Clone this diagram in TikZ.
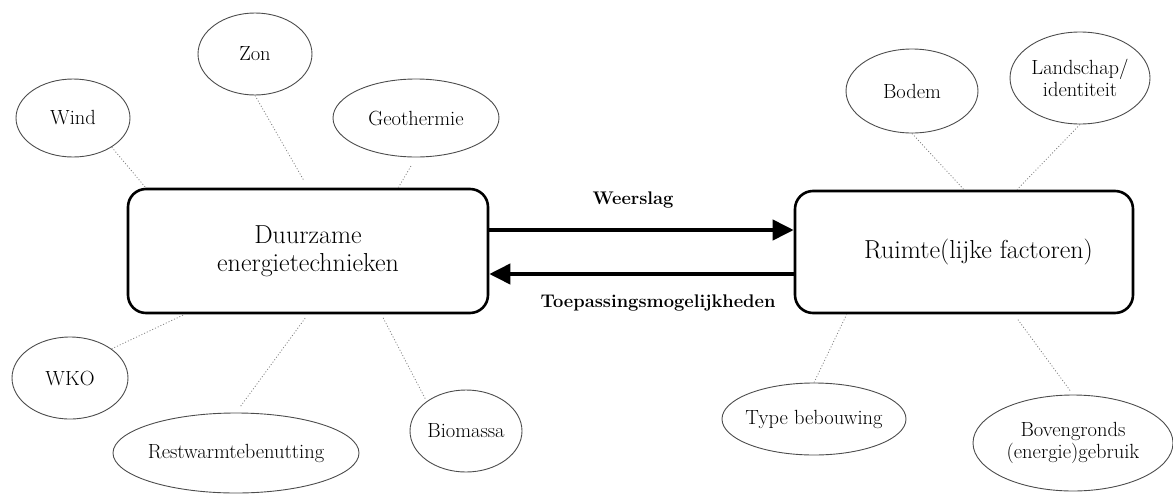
\documentclass[tikz,border=0pt]{standalone}
\usetikzlibrary{shapes.geometric,arrows.meta}
\definecolor{ellgray}{gray}{0.3}
\definecolor{conngray}{gray}{0.5}
\tikzset{
  ell/.style={ellipse, draw=ellgray, line width=0.9pt, inner ysep=0pt, inner xsep=-30pt, align=center,
    font=\fontsize{20.5}{22}\selectfont},
  bigbox/.style={draw, line width=2.6pt, rounded corners=18pt, inner sep=0pt, align=center,
    font=\fontsize{26}{28}\selectfont},
  conn/.style={draw=conngray, line width=0.8pt, dash pattern=on 1pt off 2pt},
  arr/.style={line width=4pt, -{Triangle[length=21pt,width=20pt]}},
  lab/.style={font=\bfseries\fontsize{18.3}{22}\selectfont, inner sep=0pt}
}
\begin{document}
\begin{tikzpicture}[x=1pt,y=-1pt]
\useasboundingbox (0,0) rectangle (1173,493);
% main boxes
\node[bigbox, minimum width=360pt, minimum height=124pt] (L) at (308,251) {Duurzame\\energietechnieken};
\node[bigbox, minimum width=338pt, minimum height=122pt] (R) at (964,252) {\hspace*{29pt}Ruimte(lijke factoren)};
% ellipses left
\node[ell, minimum width=114pt, minimum height=78pt] (wind) at (73,118) {Wind};
\node[ell, minimum width=114pt, minimum height=82pt] (zon) at (255,54) {Zon};
\node[ell, minimum width=166pt, minimum height=78pt] (geo) at (416,118) {Geothermie};
\node[ell, minimum width=116pt, minimum height=82pt] (wko) at (70,378) {WKO};
\node[ell, minimum width=246pt, minimum height=80pt] (restw) at (236,453) {Restwarmtebenutting};
\node[ell, minimum width=112pt, minimum height=82pt] (bio) at (466,431) {Biomassa};
% ellipses right
\node[ell, minimum width=132pt, minimum height=84pt] (bodem) at (912,91) {Bodem};
\node[ell, minimum width=140pt, minimum height=92pt] (land) at (1080,78) {Landschap/\\identiteit};
\node[ell, minimum width=184pt, minimum height=72pt] (type) at (814,419) {Type bebouwing};
\node[ell, minimum width=200pt, minimum height=96pt] (bov) at (1073,443) {Bovengronds\\(energie)gebruik};
% connectors left
\draw[conn] (wind.-37) -- ([xshift=19pt]L.north west);
\draw[conn, shorten >=9pt] (zon.south) -- (L.north);
\draw[conn, shorten <=10pt] (geo.south) -- ([xshift=-91pt]L.north east);
\draw[conn] (wko.35) -- ([xshift=58pt]L.south west);
\draw[conn, shorten <=8pt, shorten >=4pt] (restw.north) -- (L.south);
\draw[conn, shorten <=4pt, shorten >=3pt] ([xshift=-108pt]L.south east) -- (bio.143);
% connectors right
\draw[conn] (bodem.south) -- (R.north);
\draw[conn] (land.south) -- ([xshift=53pt]R.north);
\draw[conn] (type.north) -- ([xshift=53pt]R.south west);
\draw[conn, shorten <=5pt, shorten >=5pt] (bov.north) -- ([xshift=50pt]R.south);
% arrows
\draw[arr] ([yshift=21pt]L.east) -- ([yshift=21pt]L.east -| R.west);
\draw[arr] ([yshift=-22pt]R.west) -- ([yshift=-22pt]R.west -| L.east);
\node[lab] (weer) at (633,200) {Weerslag};
\node[lab] (toep) at (658,303) {Toepassingsmogelijkheden};
\end{tikzpicture}
\end{document}
